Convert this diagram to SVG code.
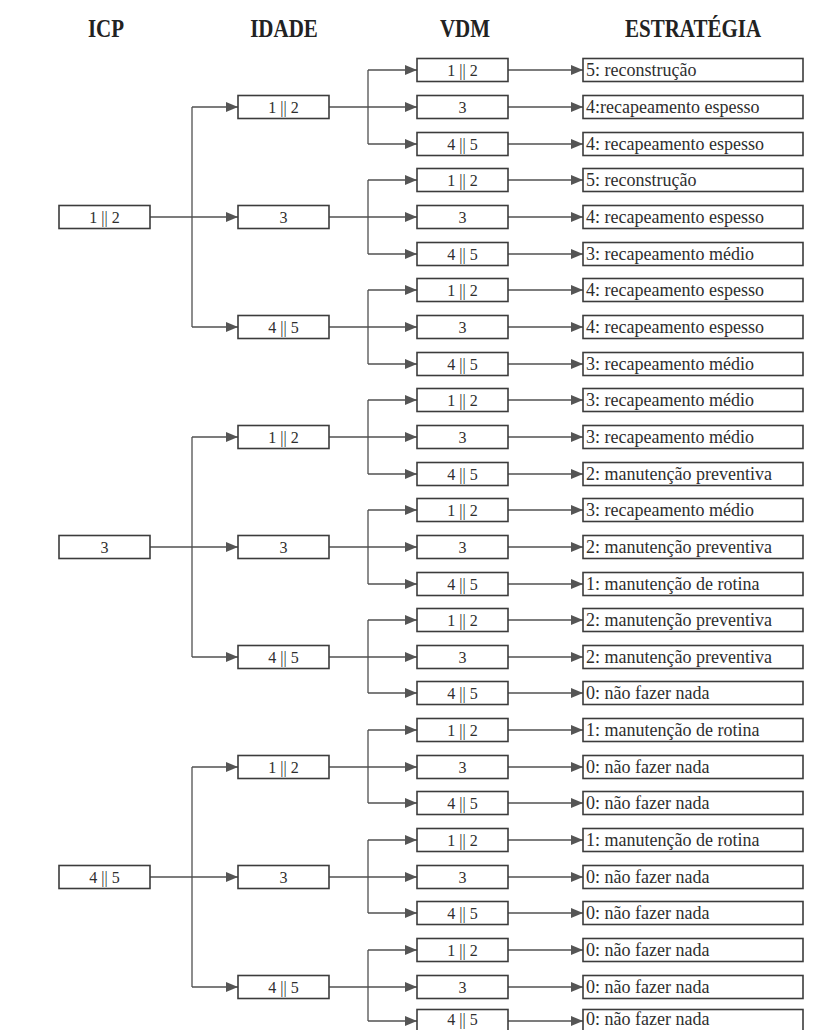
<svg xmlns="http://www.w3.org/2000/svg" width="822" height="1030" viewBox="0 0 822 1030">
<style>
.box{fill:#fff;stroke:#3c3c3c;stroke-width:1.6}
.num{font-family:"Liberation Serif","Times New Roman",serif;font-size:16px;text-anchor:middle;fill:#2e2e2e}
.st{font-family:"Liberation Serif","Times New Roman",serif;font-size:18px;fill:#2e2e2e}
.hdr{font-family:"Liberation Serif","Times New Roman",serif;font-size:21px;font-weight:bold;text-anchor:middle;fill:#222}
.ln{stroke:#505050;stroke-width:1.3;fill:none}
.ar{marker-end:url(#arr)}
</style>
<defs>
<marker id="arr" markerUnits="userSpaceOnUse" markerWidth="12" markerHeight="10" refX="12" refY="5" orient="auto">
<path d="M0,0 L12,5 L0,10 z" fill="#555"/>
</marker>
</defs>
<g id="headers">
<text class="hdr" transform="translate(106,37) scale(1,1.18)">ICP</text>
<text class="hdr" transform="translate(284,37) scale(1,1.18)">IDADE</text>
<text class="hdr" transform="translate(465,37) scale(1,1.18)">VDM</text>
<text class="hdr" transform="translate(693,37) scale(1,1.18)">ESTRATÉGIA</text>
</g>
<g id="connectors">
<line class="ln ar" x1="150" y1="217" x2="238" y2="217"/>
<line class="ln" x1="192" y1="107" x2="192" y2="327"/>
<line class="ln ar" x1="192" y1="107" x2="238" y2="107"/>
<line class="ln ar" x1="192" y1="327" x2="238" y2="327"/>
<line class="ln ar" x1="150" y1="547" x2="238" y2="547"/>
<line class="ln" x1="192" y1="437" x2="192" y2="657"/>
<line class="ln ar" x1="192" y1="437" x2="238" y2="437"/>
<line class="ln ar" x1="192" y1="657" x2="238" y2="657"/>
<line class="ln ar" x1="150" y1="877" x2="238" y2="877"/>
<line class="ln" x1="192" y1="767" x2="192" y2="987"/>
<line class="ln ar" x1="192" y1="767" x2="238" y2="767"/>
<line class="ln ar" x1="192" y1="987" x2="238" y2="987"/>
<line class="ln ar" x1="329" y1="107" x2="417" y2="107"/>
<line class="ln" x1="368" y1="70" x2="368" y2="144"/>
<line class="ln ar" x1="368" y1="70" x2="417" y2="70"/>
<line class="ln ar" x1="368" y1="144" x2="417" y2="144"/>
<line class="ln ar" x1="329" y1="217" x2="417" y2="217"/>
<line class="ln" x1="368" y1="180" x2="368" y2="254"/>
<line class="ln ar" x1="368" y1="180" x2="417" y2="180"/>
<line class="ln ar" x1="368" y1="254" x2="417" y2="254"/>
<line class="ln ar" x1="329" y1="327" x2="417" y2="327"/>
<line class="ln" x1="368" y1="290" x2="368" y2="364"/>
<line class="ln ar" x1="368" y1="290" x2="417" y2="290"/>
<line class="ln ar" x1="368" y1="364" x2="417" y2="364"/>
<line class="ln ar" x1="329" y1="437" x2="417" y2="437"/>
<line class="ln" x1="368" y1="400" x2="368" y2="474"/>
<line class="ln ar" x1="368" y1="400" x2="417" y2="400"/>
<line class="ln ar" x1="368" y1="474" x2="417" y2="474"/>
<line class="ln ar" x1="329" y1="547" x2="417" y2="547"/>
<line class="ln" x1="368" y1="510" x2="368" y2="584"/>
<line class="ln ar" x1="368" y1="510" x2="417" y2="510"/>
<line class="ln ar" x1="368" y1="584" x2="417" y2="584"/>
<line class="ln ar" x1="329" y1="657" x2="417" y2="657"/>
<line class="ln" x1="368" y1="620" x2="368" y2="693"/>
<line class="ln ar" x1="368" y1="620" x2="417" y2="620"/>
<line class="ln ar" x1="368" y1="693" x2="417" y2="693"/>
<line class="ln ar" x1="329" y1="767" x2="417" y2="767"/>
<line class="ln" x1="368" y1="730" x2="368" y2="803"/>
<line class="ln ar" x1="368" y1="730" x2="417" y2="730"/>
<line class="ln ar" x1="368" y1="803" x2="417" y2="803"/>
<line class="ln ar" x1="329" y1="877" x2="417" y2="877"/>
<line class="ln" x1="368" y1="840" x2="368" y2="913"/>
<line class="ln ar" x1="368" y1="840" x2="417" y2="840"/>
<line class="ln ar" x1="368" y1="913" x2="417" y2="913"/>
<line class="ln ar" x1="329" y1="987" x2="417" y2="987"/>
<line class="ln" x1="368" y1="950" x2="368" y2="1021"/>
<line class="ln ar" x1="368" y1="950" x2="417" y2="950"/>
<line class="ln ar" x1="368" y1="1021" x2="417" y2="1021"/>
<line class="ln ar" x1="508" y1="70" x2="583" y2="70"/>
<line class="ln ar" x1="508" y1="107" x2="583" y2="107"/>
<line class="ln ar" x1="508" y1="144" x2="583" y2="144"/>
<line class="ln ar" x1="508" y1="180" x2="583" y2="180"/>
<line class="ln ar" x1="508" y1="217" x2="583" y2="217"/>
<line class="ln ar" x1="508" y1="254" x2="583" y2="254"/>
<line class="ln ar" x1="508" y1="290" x2="583" y2="290"/>
<line class="ln ar" x1="508" y1="327" x2="583" y2="327"/>
<line class="ln ar" x1="508" y1="364" x2="583" y2="364"/>
<line class="ln ar" x1="508" y1="400" x2="583" y2="400"/>
<line class="ln ar" x1="508" y1="437" x2="583" y2="437"/>
<line class="ln ar" x1="508" y1="474" x2="583" y2="474"/>
<line class="ln ar" x1="508" y1="510" x2="583" y2="510"/>
<line class="ln ar" x1="508" y1="547" x2="583" y2="547"/>
<line class="ln ar" x1="508" y1="584" x2="583" y2="584"/>
<line class="ln ar" x1="508" y1="620" x2="583" y2="620"/>
<line class="ln ar" x1="508" y1="657" x2="583" y2="657"/>
<line class="ln ar" x1="508" y1="693" x2="583" y2="693"/>
<line class="ln ar" x1="508" y1="730" x2="583" y2="730"/>
<line class="ln ar" x1="508" y1="767" x2="583" y2="767"/>
<line class="ln ar" x1="508" y1="803" x2="583" y2="803"/>
<line class="ln ar" x1="508" y1="840" x2="583" y2="840"/>
<line class="ln ar" x1="508" y1="877" x2="583" y2="877"/>
<line class="ln ar" x1="508" y1="913" x2="583" y2="913"/>
<line class="ln ar" x1="508" y1="950" x2="583" y2="950"/>
<line class="ln ar" x1="508" y1="987" x2="583" y2="987"/>
<line class="ln ar" x1="508" y1="1021" x2="583" y2="1021"/>
</g>
<g id="icp-1"><rect class="box" x="59" y="205.5" width="91" height="23"/><text class="num" x="104.5" y="222.5">1 || 2</text></g>
<g id="icp-2"><rect class="box" x="59" y="535.5" width="91" height="23"/><text class="num" x="104.5" y="552.5">3</text></g>
<g id="icp-3"><rect class="box" x="59" y="865.5" width="91" height="23"/><text class="num" x="104.5" y="882.5">4 || 5</text></g>
<g id="idade-1-1"><rect class="box" x="238" y="95.5" width="91" height="23"/><text class="num" x="283.5" y="112.5">1 || 2</text></g>
<g id="idade-1-2"><rect class="box" x="238" y="205.5" width="91" height="23"/><text class="num" x="283.5" y="222.5">3</text></g>
<g id="idade-1-3"><rect class="box" x="238" y="315.5" width="91" height="23"/><text class="num" x="283.5" y="332.5">4 || 5</text></g>
<g id="idade-2-1"><rect class="box" x="238" y="425.5" width="91" height="23"/><text class="num" x="283.5" y="442.5">1 || 2</text></g>
<g id="idade-2-2"><rect class="box" x="238" y="535.5" width="91" height="23"/><text class="num" x="283.5" y="552.5">3</text></g>
<g id="idade-2-3"><rect class="box" x="238" y="645.5" width="91" height="23"/><text class="num" x="283.5" y="662.5">4 || 5</text></g>
<g id="idade-3-1"><rect class="box" x="238" y="755.5" width="91" height="23"/><text class="num" x="283.5" y="772.5">1 || 2</text></g>
<g id="idade-3-2"><rect class="box" x="238" y="865.5" width="91" height="23"/><text class="num" x="283.5" y="882.5">3</text></g>
<g id="idade-3-3"><rect class="box" x="238" y="975.5" width="91" height="23"/><text class="num" x="283.5" y="992.5">4 || 5</text></g>
<g id="vdm-01"><rect class="box" x="417" y="58.5" width="91" height="23"/><text class="num" x="462.5" y="75.5">1 || 2</text></g>
<g id="vdm-02"><rect class="box" x="417" y="95.5" width="91" height="23"/><text class="num" x="462.5" y="112.5">3</text></g>
<g id="vdm-03"><rect class="box" x="417" y="132.5" width="91" height="23"/><text class="num" x="462.5" y="149.5">4 || 5</text></g>
<g id="vdm-04"><rect class="box" x="417" y="168.5" width="91" height="23"/><text class="num" x="462.5" y="185.5">1 || 2</text></g>
<g id="vdm-05"><rect class="box" x="417" y="205.5" width="91" height="23"/><text class="num" x="462.5" y="222.5">3</text></g>
<g id="vdm-06"><rect class="box" x="417" y="242.5" width="91" height="23"/><text class="num" x="462.5" y="259.5">4 || 5</text></g>
<g id="vdm-07"><rect class="box" x="417" y="278.5" width="91" height="23"/><text class="num" x="462.5" y="295.5">1 || 2</text></g>
<g id="vdm-08"><rect class="box" x="417" y="315.5" width="91" height="23"/><text class="num" x="462.5" y="332.5">3</text></g>
<g id="vdm-09"><rect class="box" x="417" y="352.5" width="91" height="23"/><text class="num" x="462.5" y="369.5">4 || 5</text></g>
<g id="vdm-10"><rect class="box" x="417" y="388.5" width="91" height="23"/><text class="num" x="462.5" y="405.5">1 || 2</text></g>
<g id="vdm-11"><rect class="box" x="417" y="425.5" width="91" height="23"/><text class="num" x="462.5" y="442.5">3</text></g>
<g id="vdm-12"><rect class="box" x="417" y="462.5" width="91" height="23"/><text class="num" x="462.5" y="479.5">4 || 5</text></g>
<g id="vdm-13"><rect class="box" x="417" y="498.5" width="91" height="23"/><text class="num" x="462.5" y="515.5">1 || 2</text></g>
<g id="vdm-14"><rect class="box" x="417" y="535.5" width="91" height="23"/><text class="num" x="462.5" y="552.5">3</text></g>
<g id="vdm-15"><rect class="box" x="417" y="572.5" width="91" height="23"/><text class="num" x="462.5" y="589.5">4 || 5</text></g>
<g id="vdm-16"><rect class="box" x="417" y="608.5" width="91" height="23"/><text class="num" x="462.5" y="625.5">1 || 2</text></g>
<g id="vdm-17"><rect class="box" x="417" y="645.5" width="91" height="23"/><text class="num" x="462.5" y="662.5">3</text></g>
<g id="vdm-18"><rect class="box" x="417" y="681.5" width="91" height="23"/><text class="num" x="462.5" y="698.5">4 || 5</text></g>
<g id="vdm-19"><rect class="box" x="417" y="718.5" width="91" height="23"/><text class="num" x="462.5" y="735.5">1 || 2</text></g>
<g id="vdm-20"><rect class="box" x="417" y="755.5" width="91" height="23"/><text class="num" x="462.5" y="772.5">3</text></g>
<g id="vdm-21"><rect class="box" x="417" y="791.5" width="91" height="23"/><text class="num" x="462.5" y="808.5">4 || 5</text></g>
<g id="vdm-22"><rect class="box" x="417" y="828.5" width="91" height="23"/><text class="num" x="462.5" y="845.5">1 || 2</text></g>
<g id="vdm-23"><rect class="box" x="417" y="865.5" width="91" height="23"/><text class="num" x="462.5" y="882.5">3</text></g>
<g id="vdm-24"><rect class="box" x="417" y="901.5" width="91" height="23"/><text class="num" x="462.5" y="918.5">4 || 5</text></g>
<g id="vdm-25"><rect class="box" x="417" y="938.5" width="91" height="23"/><text class="num" x="462.5" y="955.5">1 || 2</text></g>
<g id="vdm-26"><rect class="box" x="417" y="975.5" width="91" height="23"/><text class="num" x="462.5" y="992.5">3</text></g>
<g id="vdm-27"><rect class="box" x="417" y="1009.5" width="91" height="23"/><text class="num" x="462.5" y="1025">4 || 5</text></g>
<g id="est-01"><rect class="box" x="583" y="58.5" width="220" height="23"/><text class="st" x="586" y="76">5: reconstrução</text></g>
<g id="est-02"><rect class="box" x="583" y="95.5" width="220" height="23"/><text class="st" x="586" y="113">4:recapeamento espesso</text></g>
<g id="est-03"><rect class="box" x="583" y="132.5" width="220" height="23"/><text class="st" x="586" y="150">4: recapeamento espesso</text></g>
<g id="est-04"><rect class="box" x="583" y="168.5" width="220" height="23"/><text class="st" x="586" y="186">5: reconstrução</text></g>
<g id="est-05"><rect class="box" x="583" y="205.5" width="220" height="23"/><text class="st" x="586" y="223">4: recapeamento espesso</text></g>
<g id="est-06"><rect class="box" x="583" y="242.5" width="220" height="23"/><text class="st" x="586" y="260">3: recapeamento médio</text></g>
<g id="est-07"><rect class="box" x="583" y="278.5" width="220" height="23"/><text class="st" x="586" y="296">4: recapeamento espesso</text></g>
<g id="est-08"><rect class="box" x="583" y="315.5" width="220" height="23"/><text class="st" x="586" y="333">4: recapeamento espesso</text></g>
<g id="est-09"><rect class="box" x="583" y="352.5" width="220" height="23"/><text class="st" x="586" y="370">3: recapeamento médio</text></g>
<g id="est-10"><rect class="box" x="583" y="388.5" width="220" height="23"/><text class="st" x="586" y="406">3: recapeamento médio</text></g>
<g id="est-11"><rect class="box" x="583" y="425.5" width="220" height="23"/><text class="st" x="586" y="443">3: recapeamento médio</text></g>
<g id="est-12"><rect class="box" x="583" y="462.5" width="220" height="23"/><text class="st" x="586" y="480">2: manutenção preventiva</text></g>
<g id="est-13"><rect class="box" x="583" y="498.5" width="220" height="23"/><text class="st" x="586" y="516">3: recapeamento médio</text></g>
<g id="est-14"><rect class="box" x="583" y="535.5" width="220" height="23"/><text class="st" x="586" y="553">2: manutenção preventiva</text></g>
<g id="est-15"><rect class="box" x="583" y="572.5" width="220" height="23"/><text class="st" x="586" y="590">1: manutenção de rotina</text></g>
<g id="est-16"><rect class="box" x="583" y="608.5" width="220" height="23"/><text class="st" x="586" y="626">2: manutenção preventiva</text></g>
<g id="est-17"><rect class="box" x="583" y="645.5" width="220" height="23"/><text class="st" x="586" y="663">2: manutenção preventiva</text></g>
<g id="est-18"><rect class="box" x="583" y="681.5" width="220" height="23"/><text class="st" x="586" y="699">0: não fazer nada</text></g>
<g id="est-19"><rect class="box" x="583" y="718.5" width="220" height="23"/><text class="st" x="586" y="736">1: manutenção de rotina</text></g>
<g id="est-20"><rect class="box" x="583" y="755.5" width="220" height="23"/><text class="st" x="586" y="773">0: não fazer nada</text></g>
<g id="est-21"><rect class="box" x="583" y="791.5" width="220" height="23"/><text class="st" x="586" y="809">0: não fazer nada</text></g>
<g id="est-22"><rect class="box" x="583" y="828.5" width="220" height="23"/><text class="st" x="586" y="846">1: manutenção de rotina</text></g>
<g id="est-23"><rect class="box" x="583" y="865.5" width="220" height="23"/><text class="st" x="586" y="883">0: não fazer nada</text></g>
<g id="est-24"><rect class="box" x="583" y="901.5" width="220" height="23"/><text class="st" x="586" y="919">0: não fazer nada</text></g>
<g id="est-25"><rect class="box" x="583" y="938.5" width="220" height="23"/><text class="st" x="586" y="956">0: não fazer nada</text></g>
<g id="est-26"><rect class="box" x="583" y="975.5" width="220" height="23"/><text class="st" x="586" y="993">0: não fazer nada</text></g>
<g id="est-27"><rect class="box" x="583" y="1009.5" width="220" height="23"/><text class="st" x="586" y="1025">0: não fazer nada</text></g>
</svg>
